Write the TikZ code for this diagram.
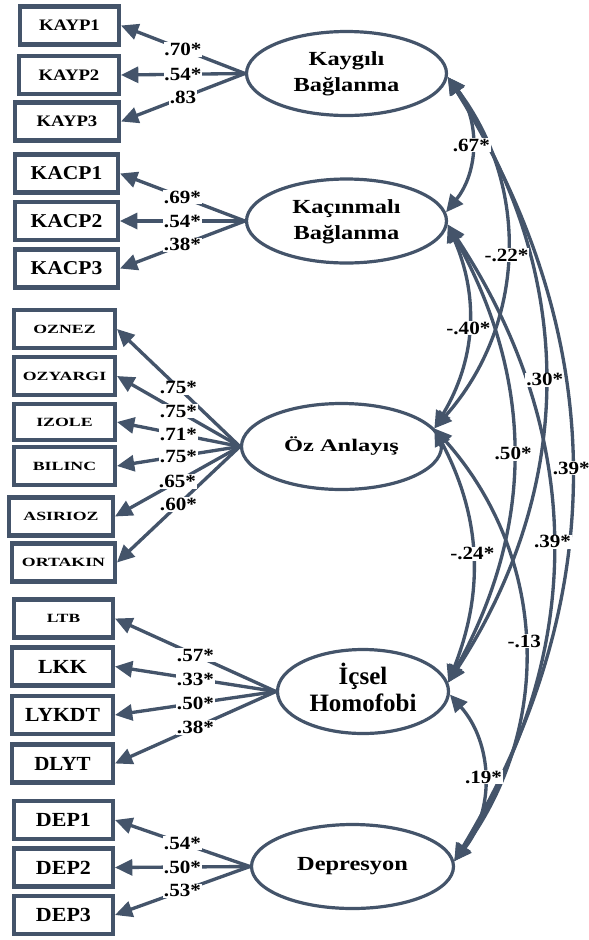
\documentclass[tikz,border=0pt]{standalone}
\usepackage{fontspec}
\setmainfont{Liberation Serif}
\usetikzlibrary{arrows.meta,shapes.geometric}
\definecolor{sem}{RGB}{68,84,106}
\newcommand\sx[3]{\scalebox{#2}[1]{\fontsize{#1pt}{#1pt}\selectfont\bfseries #3}}
\newcommand\sxx[4]{\scalebox{#2}[1]{\fontsize{#1pt}{#3pt}\selectfont\bfseries\begin{tabular}{@{}c@{}}#4\end{tabular}}}
\newcommand\lb[1]{\sx{14}{1.13}{#1}}
\tikzset{
  ind/.style={draw=sem, line width=3.2pt, fill=white, inner sep=0pt, minimum height=28.5pt, minimum width=75.5pt},
  lat/.style={ellipse, draw=sem, line width=2.4pt, fill=white, inner sep=0pt},
  ld/.style={draw=sem, line width=2.5pt, -{Triangle[length=13pt,width=12pt]}},
  cv/.style={draw=sem, line width=2.5pt, {Triangle[length=13pt,width=12pt]}-{Triangle[length=13pt,width=12pt]}},
  lab/.style={fill=white, inner sep=0.6pt, text=black},
}
\begin{document}
\begin{tikzpicture}[x=0.75pt,y=-0.75pt]
\useasboundingbox (0,0) rectangle (589,940);
% indicators
\node[ind, minimum width=74pt] (kayp1) at (69.5,25.5) {\sx{12}{1.17}{KAYP1}};
\node[ind, minimum width=74.8pt] (kayp2) at (69,75) {\sx{12}{1.17}{KAYP2}};
\node[ind, minimum width=77.8pt] (kayp3) at (67,121.5) {\sx{12}{1.17}{KAYP3}};
\node[ind, minimum width=77pt] (kacp1) at (66.5,173.5) {\sx{14.7}{1.1}{KACP1}};
\node[ind, minimum width=77pt] (kacp2) at (66.5,221) {\sx{14.7}{1.1}{KACP2}};
\node[ind, minimum width=77pt] (kacp3) at (66.5,268.5) {\sx{14.7}{1.1}{KACP3}};
\node[ind] (oznez) at (64.5,329) {\sx{9.4}{1.42}{OZNEZ}};
\node[ind] (ozyargi) at (64.5,376) {\sx{9.4}{1.42}{OZYARGI}};
\node[ind, minimum height=27pt] (izole) at (64.5,422) {\sx{9.4}{1.42}{IZOLE}};
\node[ind] (bilinc) at (64.5,466) {\sx{9.4}{1.42}{BILINC}};
\node[ind, minimum width=77.8pt] (asirioz) at (61,516.5) {\sx{9.4}{1.42}{ASIRIOZ}};
\node[ind, minimum width=77pt] (ortakin) at (63.5,562.5) {\sx{9.4}{1.42}{ORTAKIN}};
\node[ind, minimum width=74pt] (ltb) at (63.5,618.5) {\sx{9.4}{1.39}{LTB}};
\node[ind] (lkk) at (62.5,666.5) {\sx{15}{1.1}{LKK}};
\node[ind] (lykdt) at (62.5,715) {\sx{15}{1.08}{LYKDT}};
\node[ind] (dlyt) at (62.5,763.5) {\sx{15}{1.05}{DLYT}};
\node[ind, minimum width=74pt] (dep1) at (63.5,820) {\sx{15}{1.1}{DEP1}};
\node[ind, minimum width=74pt] (dep2) at (63.5,867.5) {\sx{15}{1.1}{DEP2}};
\node[ind, minimum width=74pt] (dep3) at (63.5,915) {\sx{15}{1.1}{DEP3}};
% latents
\node[lat, minimum width=150pt, minimum height=63pt] (K1) at (346.5,73.5) {\sxx{15}{1.22}{19.5}{Kaygılı\\Bağlanma}};
\node[lat, minimum width=150pt, minimum height=63pt] (K2) at (346.5,221) {\sxx{15}{1.22}{19.5}{Kaçınmalı\\Bağlanma}};
\node[lat, minimum width=150pt, minimum height=64.5pt] (Oz) at (341.5,446.5) {\sx{13.3}{1.38}{Öz Anlayış}};
\node[lat, minimum width=128.25pt, minimum height=63pt] (Ic) at (363,691.5) {\sxx{18.75}{1.0}{20}{İçsel\\Homofobi}};
\node[lat, minimum width=151.5pt, minimum height=63pt] (Dep) at (352.5,866.5) {\sx{15}{1.22}{Depresyon}};
% loadings
\draw[ld] (K1.west) -- coordinate (l1) (kayp1.east);
\draw[ld] (K1.west) -- coordinate (l2) (kayp2.east);
\draw[ld] (K1.west) -- coordinate (l3) (kayp3.east);
\draw[ld] (K2.west) -- coordinate (l4) (kacp1.east);
\draw[ld] (K2.west) -- coordinate (l5) (kacp2.east);
\draw[ld] (K2.west) -- coordinate (l6) (kacp3.east);
\draw[ld] (Oz.west) -- coordinate (l7) (oznez.east);
\draw[ld] (Oz.west) -- coordinate (l8) (ozyargi.east);
\draw[ld] (Oz.west) -- coordinate (l9) (izole.east);
\draw[ld] (Oz.west) -- coordinate (l10) (bilinc.east);
\draw[ld] (Oz.west) -- coordinate (l11) (asirioz.east);
\draw[ld] (Oz.west) -- coordinate (l12) (ortakin.east);
\draw[ld] (Ic.west) -- coordinate (l13) (ltb.east);
\draw[ld] (Ic.west) -- coordinate (l14) (lkk.east);
\draw[ld] (Ic.west) -- coordinate (l15) (lykdt.east);
\draw[ld] (Ic.west) -- coordinate (l16) (dlyt.east);
\draw[ld] (Dep.west) -- coordinate (l17) (dep1.east);
\draw[ld] (Dep.west) -- coordinate (l18) (dep2.east);
\draw[ld] (Dep.west) -- coordinate (l19) (dep3.east);
% covariances
\draw[cv] (K1.-2) to[bend left=38] coordinate (c1) (K2.5);
\draw[cv] (K1.-2) to[bend left=39.4] coordinate (c2) (Oz.11);
\draw[cv] (K2.-2) to[bend left=27.2] coordinate (c3) (Oz.11);
\draw[cv] (K1.-2) to[bend left=33.1] coordinate (c4) (Ic.6);
\draw[cv] (K2.-2) to[bend left=29.1] coordinate (c5) (Ic.6);
\draw[cv] (K1.-2) to[bend left=31.5] coordinate (c6) (Dep.3);
\draw[cv] (K2.-2) to[bend left=32.9] coordinate (c7) (Dep.3);
\draw[cv] (Oz.11) to[bend left=24.6] coordinate (c8) (Ic.6);
\draw[cv] (Oz.11) to[bend left=39] coordinate (c9) (Dep.3);
\draw[cv] (Ic.-2) to[bend left=40] coordinate (c10) (Dep.3);
% labels
\node[lab] at (l1) {\lb{.70*}};
\node[lab] at (l2) {\lb{.54*}};
\node[lab] at (l3) {\lb{.83}};
\node[lab] at (l4) {\lb{.69*}};
\node[lab] at (l5) {\lb{.54*}};
\node[lab] at (l6) {\lb{.38*}};
\node[lab] at (l7) {\lb{.75*}};
\node[lab] at (l8) {\lb{.75*}};
\node[lab] at (l9) {\lb{.71*}};
\node[lab] at (l10) {\lb{.75*}};
\node[lab] at (l11) {\lb{.65*}};
\node[lab] at (l12) {\lb{.60*}};
\node[lab] at (l13) {\lb{.57*}};
\node[lab] at (l14) {\lb{.33*}};
\node[lab] at (l15) {\lb{.50*}};
\node[lab] at (l16) {\lb{.38*}};
\node[lab] at (l17) {\lb{.54*}};
\node[lab] at (l18) {\lb{.50*}};
\node[lab] at (l19) {\lb{.53*}};
\node[lab] at (c1) {\lb{.67*}};
\node[lab] at (c2) {\lb{-.22*}};
\node[lab] at (c3) {\lb{-.40*}};
\node[lab] at (c4) {\lb{.30*}};
\node[lab] at (c5) {\lb{.50*}};
\node[lab] at (c6) {\lb{.39*}};
\node[lab] at (c7) {\lb{.39*}};
\node[lab] at (c8) {\lb{-.24*}};
\node[lab] at (c9) {\lb{-.13}};
\node[lab] at (c10) {\lb{.19*}};
\end{tikzpicture}
\end{document}
